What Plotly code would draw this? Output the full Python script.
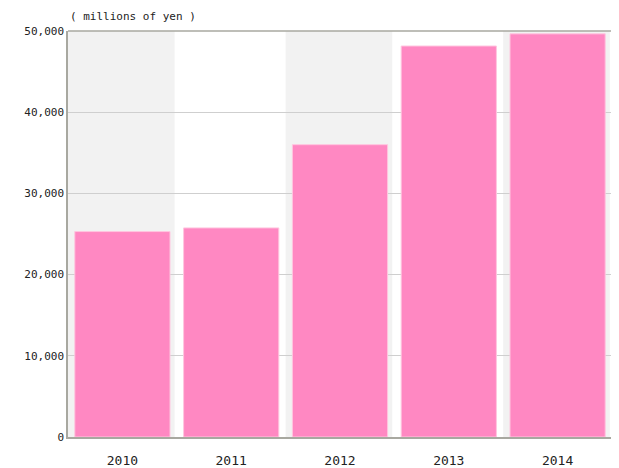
import plotly.graph_objects as go

years = ["2010", "2011", "2012", "2013", "2014"]
sales = [25300, 25750, 36000, 48150, 49650]
y_ticks = [0, 10000, 20000, 30000, 40000, 50000]
y_tick_labels = ["0", "10,000", "20,000", "30,000", "40,000", "50,000"]
unit_label = "( millions of yen )"

FONT = "DejaVu Sans Mono, Liberation Mono, monospace"

fig = go.Figure()
fig.add_trace(go.Bar(
    x=years, y=sales,
    marker=dict(color="#FF88C2", line=dict(color="#FFC6DF", width=1)),
    width=0.875,
    hoverinfo="x+y",
))

shapes = []
for i, yr in enumerate(years):
    if i % 2 == 0:
        shapes.append(dict(type="rect", xref="x", yref="paper",
                           x0=i - 0.5, x1=i + 0.48, y0=0, y1=1,
                           fillcolor="#F2F2F2", line=dict(width=0), layer="below"))
# top and right border
shapes.append(dict(type="line", xref="paper", yref="paper", x0=0, x1=1, y0=1, y1=1,
                   line=dict(color="#A8A8A0", width=1.5)))
shapes.append(dict(type="line", xref="paper", yref="paper", x0=1, x1=1, y0=0, y1=1,
                   line=dict(color="#C0C0B8", width=1.5)))

# the page body has an 8px margin, so the figure is sized to fit the window
fig.update_layout(
    width=611, height=460,
    margin=dict(l=60, r=7, t=23, b=31),
    paper_bgcolor="white", plot_bgcolor="white",
    font=dict(family=FONT, size=11, color="#222222"),
    showlegend=False,
    bargap=0.125,
    shapes=shapes,
    xaxis=dict(
        type="category", range=[-0.5, 4.5], automargin=False,
        showgrid=False, showline=True, linecolor="#A8A8A0", linewidth=1.5,
        ticks="", tickfont=dict(size=13, family=FONT), ticklabelstandoff=11,
    ),
    yaxis=dict(
        range=[0, 50000], tickvals=y_ticks, ticktext=y_tick_labels,
        automargin=False,
        showgrid=True, gridcolor="#CFCFCF", gridwidth=1,
        showline=True, linecolor="#A8A8A0", linewidth=1.5,
        ticks="", tickfont=dict(size=11, family=FONT), zeroline=False,
    ),
    annotations=[dict(
        text=unit_label, xref="paper", yref="paper", x=0, y=1,
        xanchor="left", yanchor="bottom", yshift=6, showarrow=False,
        font=dict(size=11, family=FONT, color="#222222"),
    )],
)

fig.write_html("out.html")
